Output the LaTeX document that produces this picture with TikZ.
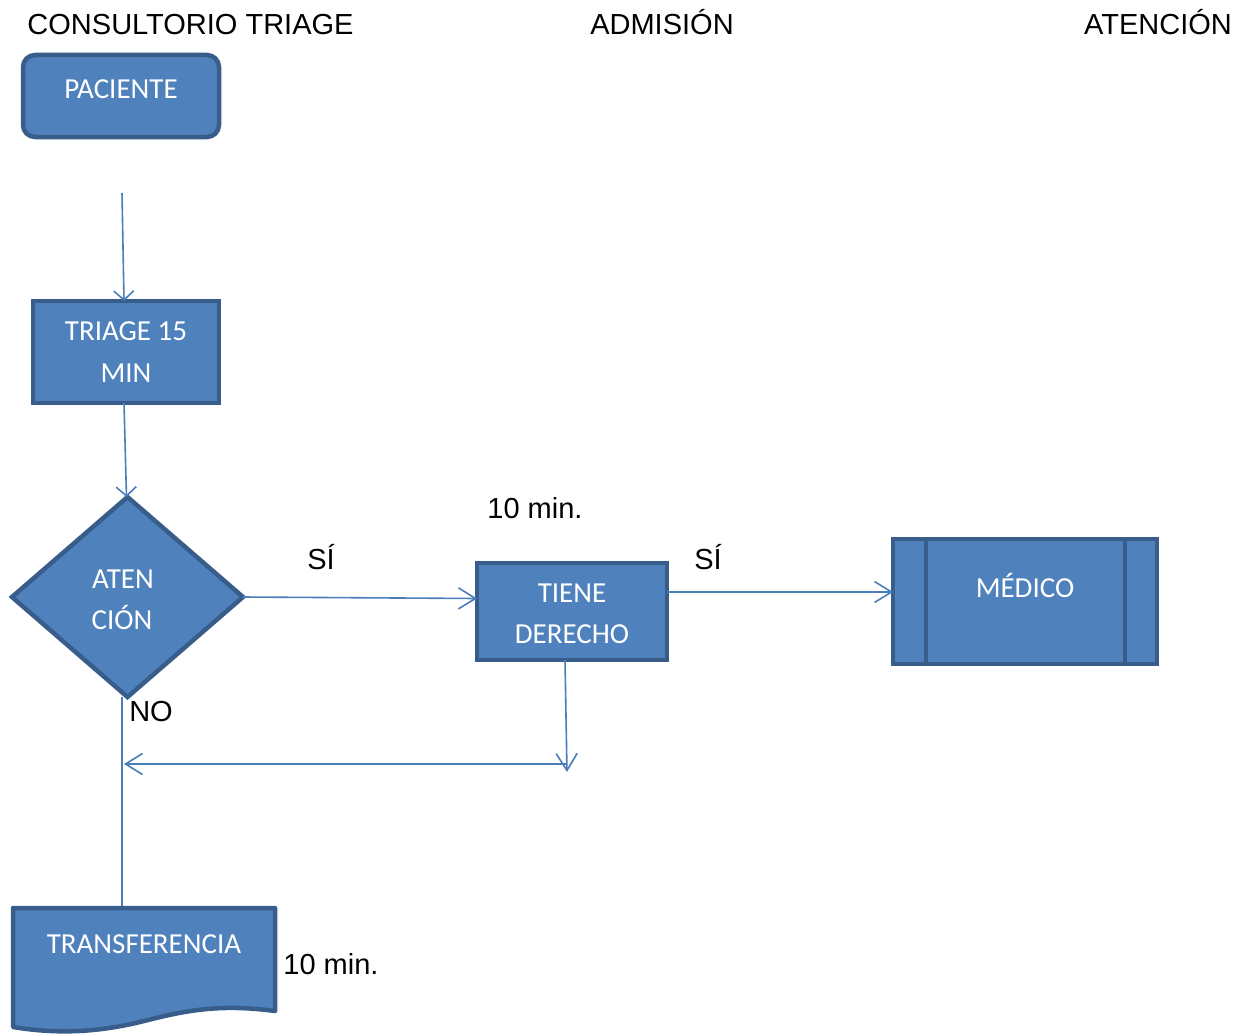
\documentclass[tikz,border=0pt]{standalone}
\usepackage{fontspec}
\setmainfont{Liberation Sans}
\newfontfamily\boxfont{Carlito}
\usetikzlibrary{shapes.geometric,arrows.meta}
\definecolor{fillb}{HTML}{4F81BD}
\definecolor{edgeb}{HTML}{385D8A}
\definecolor{connb}{HTML}{4A7EBB}
\begin{document}
\begin{tikzpicture}[x=1pt,y=-1pt,
 shp/.style={draw=edgeb, fill=fillb, line width=4.5pt, outer sep=0pt, inner sep=0pt},
 conn/.style={draw=connb, line width=1.6pt, -{Straight Barb[length=17pt,width=21pt]}},
 connshort/.style={draw=connb, line width=1.6pt, -{Straight Barb[length=9pt,width=20pt]}},
 lin/.style={draw=connb, line width=1.6pt},
 btxt/.style={font=\boxfont\fontsize{29}{35}\selectfont, text=white, anchor=base, inner sep=0pt},
 ttxt/.style={font=\fontsize{29}{35}\selectfont, text=black, anchor=base, inner sep=0pt}]

\useasboundingbox (0,0) rectangle (1249,1033);

% headings
\node[ttxt] (h1) at (190.5,34.5) {CONSULTORIO TRIAGE};
\node[ttxt] (h2) at (662,34.5) {ADMISIÓN};
\node[ttxt] (h3) at (1158,34.5) {ATENCIÓN};

% shapes
\node[shp, rounded corners=12pt, minimum width=196pt, minimum height=82pt] (pac) at (121,96) {};
\node[shp, minimum width=186pt, minimum height=102pt] (tri) at (126,352) {};
\node[shp, diamond, minimum width=231pt, minimum height=200pt] (dia) at (127.5,597) {};
\node[shp, minimum width=190pt, minimum height=97pt] (tie) at (572,611.5) {};
\node[shp, minimum width=264pt, minimum height=125pt] (med) at (1025,601.5) {};
\draw[draw=edgeb, line width=4.5pt] ([xshift=33pt]med.north west) -- ([xshift=33pt]med.south west);
\draw[draw=edgeb, line width=4.5pt] ([xshift=-32pt]med.north east) -- ([xshift=-32pt]med.south east);
\path[shp, line join=round] (13,908) -- (275,908) -- (275,1011)
  .. controls (215,1003) and (180,1012) .. (140,1022)
  .. controls (90,1034) and (50,1033) .. (13,1027) -- cycle;

% texts inside shapes
\node[btxt] (tpac) at (121,98) {PACIENTE};
\node[btxt] (ttri1) at (126,340) {TRIAGE 15};
\node[btxt] (ttri2) at (126,382) {MIN};
\node[btxt] (tdia1) at (123,588) {ATEN};
\node[btxt] (tdia2) at (122,629) {CIÓN};
\node[btxt] (ttie1) at (572,602) {TIENE};
\node[btxt] (ttie2) at (572,643) {DERECHO};
\node[btxt] (tmed) at (1025,597) {MÉDICO};
\node[btxt] (ttra) at (144,953) {TRANSFERENCIA};

% free labels
\node[ttxt] (l10a) at (535,518.5) {10 min.};
\node[ttxt] (lsi1) at (321,569) {SÍ};
\node[ttxt] (lsi2) at (708,569) {SÍ};
\node[ttxt] (lno) at (151,721) {NO};
\node[ttxt] (l10b) at (331,974) {10 min.};

% connectors
\coordinate (p0) at (122,193);
\draw[connshort] (p0) -- ([xshift=-2pt]tri.north);
\draw[connshort] ([xshift=-2pt]tri.south) -- ([xshift=-1pt]dia.north);
\draw[conn] (dia.east) -- ([yshift=13pt]tie.west);
\draw[conn] ([yshift=19.5pt]tie.east) -- ([yshift=19.5pt]tie.east -| med.west);
\coordinate (j) at (567,772);
\draw[conn] ([xshift=-7pt]tie.south) -- (j);
\coordinate (nb) at ([xshift=-5.5pt]dia.south);
\coordinate (tt) at (122,906);
\draw[lin] (nb) -- (tt);
\coordinate (h) at (567,764);
\draw[conn] (h) -- ([xshift=2pt]h -| nb);
\end{tikzpicture}
\end{document}
